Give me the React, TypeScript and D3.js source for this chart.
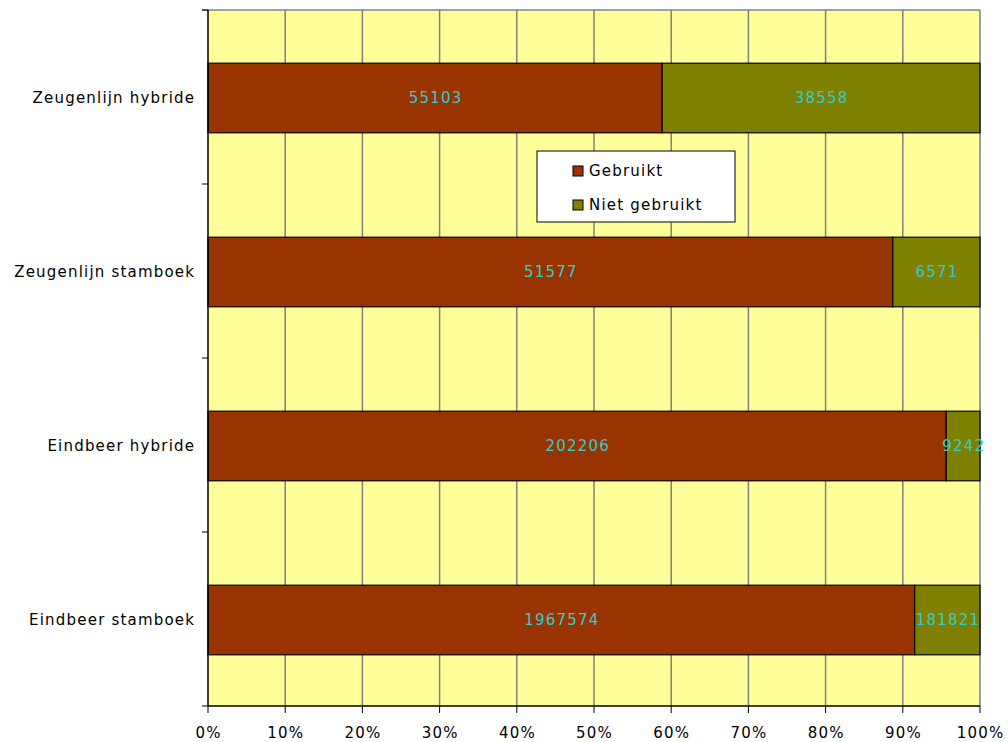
import React from "react";
import * as d3 from "d3";

const categories = ["Zeugenlijn hybride", "Zeugenlijn stamboek", "Eindbeer hybride", "Eindbeer stamboek"];
const gebruikt = [55103, 51577, 202206, 1967574];
const nietGebruikt = [38558, 6571, 9242, 181821];
const seriesNames = ["Gebruikt", "Niet gebruikt"];
const seriesColors = ["#993300", "#808000"];
const xTicks = [0, 10, 20, 30, 40, 50, 60, 70, 80, 90, 100];

export default function App() {
  const W = 1008, H = 742;
  const left = 208, right = 980, top = 10, bottom = 706;
  const font = "'DejaVu Sans', Verdana, sans-serif";
  const ls = 1.2;
  const x = d3.scaleLinear().domain([0, 100]).range([left, right]);
  const y = d3.scaleBand().domain(categories).range([top, bottom]).paddingInner(0.6).paddingOuter(0.3);
  const yOuter = d3.scaleBand().domain(categories).range([top, bottom]);
  const rows = categories.map((c, i) => {
    const tot = gebruikt[i] + nietGebruikt[i];
    const p1 = (gebruikt[i] / tot) * 100;
    return { c, segs: [
      { v: gebruikt[i], x0: 0, x1: p1, color: seriesColors[0] },
      { v: nietGebruikt[i], x0: p1, x1: 100, color: seriesColors[1] },
    ] };
  });
  const bounds = categories.map((c) => yOuter(c) as number).concat([bottom]);
  return (
    <svg width={W} height={H} style={{ position: "absolute", left: 0, top: 0 }} fontFamily={font} letterSpacing={ls}>
      <rect x={0} y={0} width={W} height={H} fill="#fff" />
      <rect x={left} y={top} width={right - left} height={bottom - top} fill="#FFFF99" />
      {xTicks.slice(1).map((t) => (
        <line key={t} x1={x(t)} x2={x(t)} y1={top} y2={bottom} stroke="#808080" strokeWidth={1.5} />
      ))}
      <line x1={left - 6} x2={right} y1={top} y2={top} stroke="#808080" strokeWidth={1.5} />
      {rows.map((r) => (
        <g key={r.c}>
          {r.segs.map((s, j) => (
            <g key={j}>
              <rect x={x(s.x0)} y={(y(r.c) as number) + 1} width={x(s.x1) - x(s.x0)} height={y.bandwidth()} fill={s.color} stroke="#000" strokeWidth={1.2} />
              <text x={(x(s.x0) + x(s.x1)) / 2 + ls / 2} y={(y(r.c) as number) + 1 + y.bandwidth() / 2} dy="0.35em" textAnchor="middle" fontSize={15} fill="#33CCCC">{s.v}</text>
            </g>
          ))}
          <text x={194 + ls} y={(y(r.c) as number) + 1 + y.bandwidth() / 2} dy="0.35em" textAnchor="end" fontSize={15} fill="#000">{r.c}</text>
        </g>
      ))}
      <line x1={left} x2={left} y1={top} y2={bottom} stroke="#000" strokeWidth={1.5} />
      {bounds.map((b, i) => (
        <line key={i} x1={left - 6} x2={left} y1={b} y2={b} stroke="#000" strokeWidth={1} />
      ))}
      <line x1={left} x2={right} y1={bottom} y2={bottom} stroke="#000" strokeWidth={1.5} />
      {xTicks.map((t) => (
        <g key={t}>
          <line x1={x(t)} x2={x(t)} y1={bottom} y2={bottom + 7} stroke="#000" strokeWidth={1} />
          <text x={x(t) + ls / 2} y={738} textAnchor="middle" fontSize={15} fill="#000">{t}%</text>
        </g>
      ))}
      <g transform="translate(537,151)">
        <rect x={0} y={0} width={198} height={71} fill="#fff" stroke="#000" strokeWidth={1} />
        {seriesNames.map((n, i) => (
          <g key={n} transform={`translate(0,${20 + i * 34})`}>
            <rect x={36} y={-5} width={10} height={10} fill={seriesColors[i]} stroke="#000" strokeWidth={1} />
            <text x={52} y={0} dy="0.35em" fontSize={15} fill="#000">{n}</text>
          </g>
        ))}
      </g>
    </svg>
  );
}
